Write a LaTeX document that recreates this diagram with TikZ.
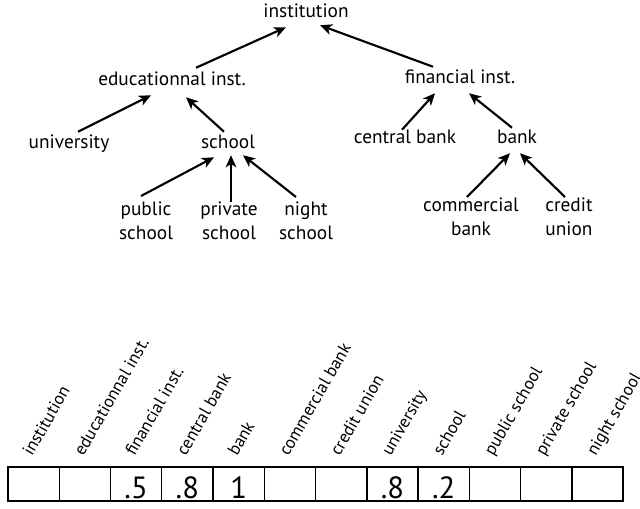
\documentclass[tikz,border=0pt]{standalone}
\usepackage{fontspec}
\setmainfont{PT Sans}
\tikzstyle{concept}=[font=\fontsize{14.5}{17.6}\selectfont,inner sep=1.5pt,text height=10.5pt,text depth=3pt]
\tikzstyle{leaf}=[font=\fontsize{14.5}{17.6}\selectfont,align=center,inner sep=1.5pt,anchor=north]
\tikzstyle{edge}=[draw,line width=1.6pt,-{Stealth[length=9pt,width=8pt,inset=2.5pt]}]
\tikzstyle{cell}=[draw,line width=1.1pt,minimum width=38.44pt,minimum height=25.5pt,inner sep=0pt,outer sep=0pt]
\tikzstyle{rot}=[font=\fontsize{13}{14}\selectfont,rotate=60,anchor=base west,inner sep=0pt]
\tikzstyle{val}=[font=\fontsize{23}{26}\selectfont,anchor=base,inner sep=0pt]
\usetikzlibrary{calc,arrows.meta,positioning}

\begin{document}
\begin{tikzpicture}[x=0.75pt,y=-0.75pt]
\useasboundingbox (0,0) rectangle (640,508);
% tree
\node[concept] (inst) at (306,12) {institution};
\node[concept] (edu) at (172,80) {educationnal inst.};
\node[concept] (fin) at (460,78) {financial inst.};
\node[concept] (univ) at (69,143) {university};
\node[concept] (sch) at (228,143) {school};
\node[concept] (cb) at (405,138) {central bank};
\node[concept] (bank) at (517,138) {bank};
\node[leaf] (pub) at (146,200) {public\\school};
\node[leaf] (priv) at (229,200) {private\\school};
\node[leaf] (night) at (306,200) {night\\school};
\node[leaf] (com) at (471,196) {commercial\\bank};
\node[leaf] (cred) at (569,196) {credit\\union};

\path[edge] ($(edu.north)+(24,-1)$) -- ($(inst.south)+(-20,4)$);
\path[edge] ($(fin.north)+(-27,0)$) -- ($(inst.south)+(14,2)$);
\path[edge] ($(univ.north)+(9,0)$) -- ($(edu.south)+(-21,4)$);
\path[edge] ($(sch.north)+(-4,0)$) -- ($(edu.south)+(14,6)$);
\path[edge] ($(cb.north)+(-3,3)$) -- ($(fin.south)+(-25,4)$);
\path[edge] ($(bank.north)+(-5,1)$) -- ($(fin.south)+(9,4)$);
\path[edge] ($(pub.north)+(-5,-4)$) -- ($(sch.south)+(-14,3)$);
\path[edge] ($(priv.north)+(2,2)$) -- ($(sch.south)+(3,1)$);
\path[edge] ($(night.north)+(-10,-3)$) -- ($(sch.south)+(15,1)$);
\path[edge] ($(com.north)+(-4,1)$) -- ($(bank.south)+(-7,4)$);
\path[edge] ($(cred.north)+(-4,1)$) -- ($(bank.south)+(3,4)$);

% vector
\node[cell] (c1) at (33.625,484) {};
\node[cell,right=0pt of c1] (c2) {};
\node[cell,right=0pt of c2] (c3) {};
\node[cell,right=0pt of c3] (c4) {};
\node[cell,right=0pt of c4] (c5) {};
\node[cell,right=0pt of c5] (c6) {};
\node[cell,right=0pt of c6] (c7) {};
\node[cell,right=0pt of c7] (c8) {};
\node[cell,right=0pt of c8] (c9) {};
\node[cell,right=0pt of c9] (c10) {};
\node[cell,right=0pt of c10] (c11) {};
\node[cell,right=0pt of c11] (c12) {};

\node[val] (v3) at ($(c3.south)+(0,-3)$) {.5};
\node[val] (v4) at ($(c4.south)+(0,-3)$) {.8};
\node[val] (v5) at ($(c5.south)+(0,-3)$) {1};
\node[val] (v8) at ($(c8.south)+(0,-3)$) {.8};
\node[val] (v9) at ($(c9.south)+(0,-3)$) {.2};

\node[rot] (l1) at ($(c1.north west)+(24,-10)$) {institution};
\node[rot] (l2) at ($(c2.north west)+(24,-10)$) {educationnal inst.};
\node[rot] (l3) at ($(c3.north west)+(24,-10)$) {financial inst.};
\node[rot] (l4) at ($(c4.north west)+(24,-10)$) {central bank};
\node[rot] (l5) at ($(c5.north west)+(24,-10)$) {bank};
\node[rot] (l6) at ($(c6.north west)+(24,-10)$) {commercial bank};
\node[rot] (l7) at ($(c7.north west)+(24,-10)$) {credit union};
\node[rot] (l8) at ($(c8.north west)+(24,-10)$) {university};
\node[rot] (l9) at ($(c9.north west)+(24,-10)$) {school};
\node[rot] (l10) at ($(c10.north west)+(24,-10)$) {public school};
\node[rot] (l11) at ($(c11.north west)+(24,-10)$) {private school};
\node[rot] (l12) at ($(c12.north west)+(24,-10)$) {night school};
\end{tikzpicture}
\end{document}
